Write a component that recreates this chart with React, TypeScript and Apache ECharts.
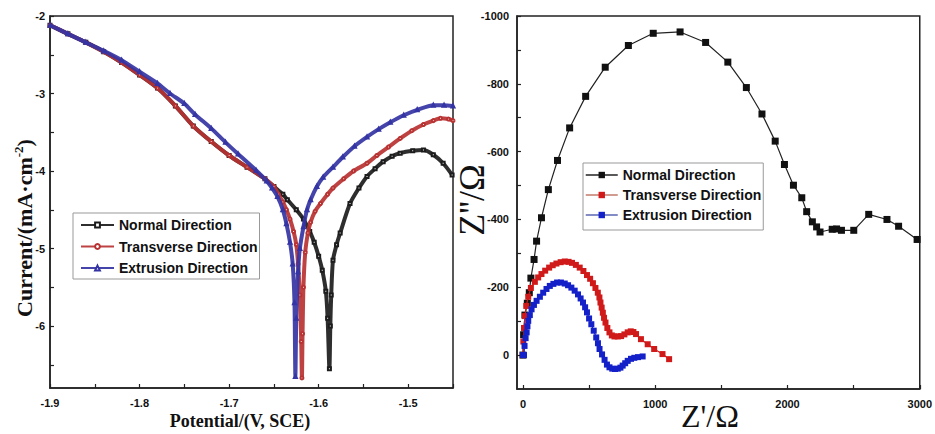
import React, { useEffect, useRef } from "react";
import * as echarts from "echarts";

// ---------- Data ----------
const seriesNames = ["Normal Direction", "Transverse Direction", "Extrusion Direction"];

// Tafel curves: [potential (V, SCE), log current]
const tafelNormal: number[][] = [
  [-1.9, -2.12], [-1.88, -2.23], [-1.86, -2.34], [-1.84, -2.46], [-1.82, -2.6], [-1.8, -2.76],
  [-1.78, -2.93], [-1.76, -3.16], [-1.74, -3.42], [-1.72, -3.62], [-1.7, -3.8], [-1.68, -3.95],
  [-1.66, -4.1], [-1.65, -4.2], [-1.64, -4.3], [-1.635, -4.37], [-1.625, -4.5], [-1.617, -4.62],
  [-1.61, -4.78], [-1.605, -4.92], [-1.6, -5.1], [-1.596, -5.28], [-1.592, -5.55], [-1.59, -5.9],
  [-1.588, -6.55], [-1.587, -6.0], [-1.586, -5.6], [-1.584, -5.15], [-1.58, -4.95], [-1.576, -4.8],
  [-1.565, -4.42], [-1.555, -4.22], [-1.546, -4.07], [-1.537, -3.97], [-1.528, -3.88], [-1.518, -3.81],
  [-1.509, -3.77], [-1.495, -3.74], [-1.483, -3.73], [-1.472, -3.79], [-1.461, -3.9], [-1.451, -4.05],
];
const tafelTransverse: number[][] = [
  [-1.9, -2.12], [-1.88, -2.23], [-1.86, -2.34], [-1.84, -2.46], [-1.82, -2.6], [-1.8, -2.76],
  [-1.78, -2.93], [-1.76, -3.16], [-1.74, -3.42], [-1.72, -3.62], [-1.7, -3.8], [-1.68, -3.95],
  [-1.66, -4.1], [-1.65, -4.2], [-1.645, -4.3], [-1.64, -4.4], [-1.636, -4.5], [-1.632, -4.62],
  [-1.628, -4.78], [-1.625, -4.95], [-1.623, -5.2], [-1.621, -5.6], [-1.6195, -6.2], [-1.6187, -6.67],
  [-1.618, -6.1], [-1.617, -5.5], [-1.615, -5.05], [-1.612, -4.8], [-1.609, -4.66], [-1.604, -4.52],
  [-1.598, -4.42], [-1.59, -4.3], [-1.584, -4.22], [-1.572, -4.1], [-1.561, -4.0], [-1.546, -3.9],
  [-1.535, -3.8], [-1.522, -3.69], [-1.509, -3.58], [-1.496, -3.48], [-1.483, -3.4], [-1.472, -3.35],
  [-1.464, -3.32], [-1.455, -3.33], [-1.45, -3.35],
];
const tafelExtrusion: number[][] = [
  [-1.9, -2.12], [-1.88, -2.23], [-1.86, -2.34], [-1.84, -2.45], [-1.82, -2.57], [-1.8, -2.72],
  [-1.78, -2.87], [-1.766, -3.0], [-1.75, -3.13], [-1.738, -3.27], [-1.72, -3.45], [-1.704, -3.63],
  [-1.69, -3.78], [-1.67, -3.99], [-1.658, -4.13], [-1.652, -4.22], [-1.646, -4.33], [-1.64, -4.5],
  [-1.636, -4.68], [-1.632, -4.92], [-1.629, -5.2], [-1.627, -5.7], [-1.626, -6.65], [-1.625, -5.9],
  [-1.623, -5.3], [-1.621, -5.0], [-1.617, -4.72], [-1.613, -4.5], [-1.609, -4.37], [-1.602, -4.2],
  [-1.595, -4.08], [-1.584, -3.95], [-1.573, -3.82], [-1.56, -3.68], [-1.546, -3.56], [-1.533, -3.46],
  [-1.52, -3.37], [-1.505, -3.28], [-1.49, -3.21], [-1.472, -3.15], [-1.46, -3.15], [-1.45, -3.16],
];

// Nyquist: [Z' (Ω), Z'' (Ω)]
const eisNormal: number[][] = [
  [0, 0], [5, -60], [15, -118], [33, -153], [48, -184], [60, -227], [84, -282], [103, -336],
  [140, -405], [192, -488], [261, -574], [353, -670], [474, -763], [622, -849], [797, -913],
  [985, -949], [1188, -953], [1381, -922], [1549, -864], [1689, -789], [1807, -711], [1907, -631],
  [1977, -562], [2045, -501], [2108, -464], [2145, -423], [2188, -393], [2220, -378], [2246, -363],
  [2338, -371], [2371, -372], [2408, -368], [2501, -368], [2614, -415], [2752, -400], [2840, -380],
  [2980, -341],
];
const eisTransverse: number[][] = [
  [0, 0], [3, -40], [8, -80], [15, -115], [25, -145], [40, -172], [60, -198], [90, -216],
  [115, -229], [140, -239], [168, -249], [198, -258], [225, -265], [253, -270], [285, -274],
  [316, -276], [345, -275], [371, -272], [400, -266], [429, -258], [457, -248], [484, -236],
  [508, -225], [529, -212], [548, -198], [566, -184], [578, -170], [586, -155], [595, -140],
  [604, -125], [613, -110], [624, -96], [638, -80], [654, -67], [672, -58], [692, -55], [717, -55],
  [742, -56], [767, -61], [792, -67], [815, -70], [835, -68], [855, -62], [892, -47], [943, -32],
  [992, -18], [1055, -3], [1105, 12],
];
const eisExtrusion: number[][] = [
  [0, 0], [8, 0], [12, -27], [20, -50], [28, -67], [34, -85], [40, -101], [52, -118], [65, -135],
  [83, -148], [103, -160], [128, -172], [153, -184], [178, -195], [203, -204], [230, -210],
  [258, -214], [287, -214], [316, -211], [341, -206], [366, -199], [391, -190], [416, -179],
  [436, -167], [454, -155], [470, -141], [484, -126], [500, -108], [517, -91], [535, -72],
  [554, -52], [567, -35], [579, -18], [598, -2], [617, 14], [635, 28], [654, 36], [675, 40],
  [696, 41], [717, 40], [737, 37], [754, 31], [773, 24], [792, 17], [817, 11], [842, 8], [870, 6],
  [905, 4],
];

// Ticks
const potentialLabels = [-1.9, -1.8, -1.7, -1.6, -1.5];
const potentialTicks = [-1.9, -1.85, -1.8, -1.75, -1.7, -1.65, -1.6, -1.55, -1.5, -1.45];
const currentLabels = [-6, -5, -4, -3, -2];
const currentTicks = [-6.5, -6, -5.5, -5, -4.5, -4, -3.5, -3, -2.5, -2];
const zReLabels = [0, 1000, 2000, 3000];
const zReTicks = [0, 500, 1000, 1500, 2000, 2500, 3000];
const zImLabels = [-1000, -800, -600, -400, -200, 0];
const zImTicks = [-1000, -900, -800, -700, -600, -500, -400, -300, -200, -100, 0];

const EIS = " (EIS)";
const tafelColors = ["#1c1c1c", "#b83232", "#3434a4"];
const tafelSymbols = ["emptyRect", "emptyCircle", "emptyTriangle"];
const eisColors = ["#111111", "#d01a1a", "#1420c8"];
const eisLegendLine = ["#222222", "#c27a6a", "#5a66b0"];

const SANS = "'Liberation Sans', Arial, sans-serif";
const SERIF = "'Liberation Serif', 'Times New Roman', serif";

export default function App() {
  const ref = useRef<HTMLDivElement>(null);

  useEffect(() => {
    document.body.style.margin = "0";
    if (!ref.current) return;
    const chart = echarts.init(ref.current, undefined, { renderer: "svg" });

    const axisLine = { show: true, onZero: false, lineStyle: { color: "#222", width: 1.5 } };
    const labelStyle = { fontFamily: SANS, fontWeight: "bold" as const, fontSize: 11, color: "#111" };

    const tafelData = [tafelNormal, tafelTransverse, tafelExtrusion];
    const eisData = [eisNormal, eisTransverse, eisExtrusion];

    const series: any[] = [];
    seriesNames.forEach((name, i) => {
      series.push({
        name,
        type: "line",
        xAxisIndex: 0,
        yAxisIndex: 0,
        data: tafelData[i],
        smooth: 0.25,
        symbol: tafelSymbols[i],
        symbolSize: 3,
        showSymbol: true,
        lineStyle: { color: tafelColors[i], width: 4, opacity: 0.92 },
        itemStyle: { color: tafelColors[i], borderWidth: 0.8 },
        z: 2 + i,
      });
    });
    seriesNames.forEach((name, i) => {
      series.push({
        name: name + EIS,
        type: "line",
        xAxisIndex: 1,
        yAxisIndex: 1,
        data: eisData[i],
        symbol: "rect",
        symbolSize: i === 0 ? 7 : 6,
        showSymbol: true,
        lineStyle: { color: i === 0 ? "#222" : eisColors[i], width: 1.2 },
        itemStyle: { color: eisColors[i] },
        z: 2 + i,
      });
    });

    const option: any = {
      animation: false,
      backgroundColor: "#fff",
      grid: [
        { left: 50, top: 16, width: 403, height: 372, show: true, borderColor: "#222", borderWidth: 1.5 },
        { left: 517, top: 16, width: 405, height: 373, show: true, borderColor: "#222", borderWidth: 1.5 },
      ],
      xAxis: [
        {
          type: "value",
          gridIndex: 0,
          min: -1.9,
          max: -1.45,
          axisLine,
          axisTick: { show: true, inside: true, length: 4, customValues: potentialTicks, lineStyle: { color: "#222", width: 1.2 } },
          axisLabel: { ...labelStyle, margin: 9, customValues: potentialLabels, formatter: (v: number) => v.toFixed(1) },
          splitLine: { show: false },
        },
        {
          type: "value",
          gridIndex: 1,
          min: -45,
          max: 3000,
          axisLine,
          axisTick: { show: true, inside: true, length: 4, customValues: zReTicks, lineStyle: { color: "#222", width: 1.2 } },
          axisLabel: { ...labelStyle, margin: 9, customValues: zReLabels, formatter: (v: number) => String(Math.round(v)) },
          splitLine: { show: false },
        },
      ],
      yAxis: [
        {
          type: "value",
          gridIndex: 0,
          min: -6.8,
          max: -2,
          axisLine,
          axisTick: { show: true, inside: true, length: 4, customValues: currentTicks, lineStyle: { color: "#222", width: 1.2 } },
          axisLabel: { ...labelStyle, margin: 5, customValues: currentLabels, formatter: (v: number) => String(Math.round(v)) },
          splitLine: { show: false },
        },
        {
          type: "value",
          gridIndex: 1,
          min: -1000,
          max: 100,
          inverse: true,
          axisLine,
          axisTick: { show: true, inside: true, length: 4, customValues: zImTicks, lineStyle: { color: "#222", width: 1.2 } },
          axisLabel: { ...labelStyle, margin: 8, customValues: zImLabels, formatter: (v: number) => String(Math.round(v)) },
          splitLine: { show: false },
        },
      ],
      legend: [
        {
          orient: "vertical",
          left: 73,
          top: 213,
          padding: [5, 2, 4, 7],
          itemWidth: 33,
          itemHeight: 6,
          itemGap: 7.5,
          selectedMode: false,
          borderColor: "#999",
          borderWidth: 1,
          backgroundColor: "#fff",
          lineStyle: { width: 2 },
          textStyle: { fontFamily: SANS, fontWeight: "bold", fontSize: 14, color: "#111", lineHeight: 14 },
          data: seriesNames.map((n) => ({ name: n })),
        },
        {
          orient: "vertical",
          left: 583,
          top: 163,
          padding: [5, 2, 8, 2],
          itemWidth: 32,
          itemHeight: 8,
          itemGap: 6,
          selectedMode: false,
          borderColor: "#999",
          borderWidth: 1,
          backgroundColor: "#fff",
          textStyle: { fontFamily: SANS, fontWeight: "bold", fontSize: 14, color: "#111", lineHeight: 14 },
          formatter: (n: string) => n.replace(EIS, ""),
          data: seriesNames.map((n, i) => ({
            name: n + EIS,
            lineStyle: { color: eisLegendLine[i], width: 1.5 },
          })),
        },
      ],
      graphic: [
        {
          type: "text",
          x: 24,
          y: 228,
          rotation: Math.PI / 2,
          style: {
            text: "{a|Current/(mA·cm}{s|-2}{a|)}",
            textAlign: "center",
            textVerticalAlign: "middle",
            fill: "#111",
            rich: {
              a: { fontFamily: SERIF, fontWeight: "bold", fontSize: 22, fill: "#111", lineHeight: 24 },
              s: { fontFamily: SERIF, fontWeight: "bold", fontSize: 13, fill: "#111", verticalAlign: "top" },
            },
          },
        },
        {
          type: "text",
          x: 240,
          y: 421,
          style: {
            text: "Potential/(V, SCE)",
            font: `bold 18px ${SERIF}`,
            textAlign: "center",
            textVerticalAlign: "middle",
            fill: "#111",
          },
        },
        {
          type: "text",
          x: 472,
          y: 200,
          rotation: Math.PI / 2,
          style: {
            text: "Z''/Ω",
            font: `36px ${SERIF}`,
            textAlign: "center",
            textVerticalAlign: "middle",
            fill: "#111",
          },
        },
        {
          type: "text",
          x: 710,
          y: 416,
          style: {
            text: "Z'/Ω",
            font: `32px ${SERIF}`,
            textAlign: "center",
            textVerticalAlign: "middle",
            fill: "#111",
          },
        },
      ],
      series,
    };

    chart.setOption(option);
    return () => chart.dispose();
  }, []);

  return <div ref={ref} style={{ width: 935, height: 434 }} />;
}
